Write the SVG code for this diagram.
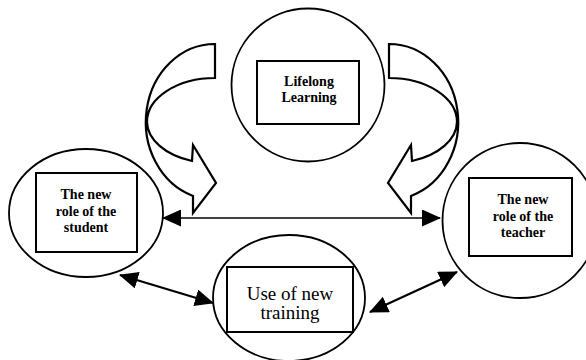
<svg xmlns="http://www.w3.org/2000/svg" width="586" height="360" viewBox="0 0 586 360">
<style>
.ring{fill:none;stroke:#000;stroke-width:1.8}
.box{fill:#fff;stroke:#000;stroke-width:2}
.lbl{font-family:"Liberation Serif","Times New Roman",serif;font-size:14px;font-weight:bold;text-anchor:middle;fill:#000}
.big{font-family:"Liberation Serif","Times New Roman",serif;font-size:19px;text-anchor:middle;fill:#000}
.band{fill:none;stroke:#000;stroke-width:2.2;stroke-linejoin:miter}
.link{fill:none;stroke:#000;stroke-width:2.2}
.hlink{fill:none;stroke:#000;stroke-width:1.6}
</style>
<defs>
<marker id="head" markerUnits="userSpaceOnUse" markerWidth="19" markerHeight="17" viewBox="0 0 19 17" refX="18" refY="8.5" orient="auto-start-reverse">
<path d="M0,0 L19,8.5 L0,17 Z" fill="#000"/>
</marker>
</defs>
<rect width="586" height="360" fill="#fff"/>
<g id="lifelong">
<circle class="ring" cx="308" cy="85" r="76.5"/>
<rect class="box" x="257" y="61" width="102" height="63"/>
<text class="lbl" x="309" y="86">Lifelong</text>
<text class="lbl" x="309" y="102">Learning</text>
</g>
<g id="student">
<ellipse class="ring" cx="86" cy="213" rx="77" ry="64"/>
<rect class="box" x="36" y="173" width="101" height="79"/>
<text class="lbl" x="86" y="199">The new</text>
<text class="lbl" x="86" y="216">role of the</text>
<text class="lbl" x="86" y="232">student</text>
</g>
<g id="teacher">
<circle class="ring" cx="520" cy="220.5" r="77.5"/>
<rect class="box" x="469" y="178" width="103" height="78"/>
<text class="lbl" x="523" y="204">The new</text>
<text class="lbl" x="523" y="221">role of the</text>
<text class="lbl" x="523" y="237">teacher</text>
</g>
<g id="training">
<ellipse class="ring" cx="289" cy="298" rx="76" ry="63"/>
<rect class="box" x="227" y="267" width="126" height="65"/>
<text class="big" x="290" y="300">Use of new</text>
<text class="big" x="290" y="319">training</text>
</g>
<g id="connectors">
<path class="band" d="M215,44 A69,78 0 0 0 193,196 L193,213 L216,183 L193,145 L192,161 A68,42 0 0 1 147,122 A68,44 0 0 1 215,78 Z"/>
<path class="band" d="M389,44 A69,78 0 0 1 411,196 L411,213 L388,183 L411,145 L412,161 A68,42 0 0 0 457,122 A68,44 0 0 0 389,78 Z"/>
<line class="hlink" x1="163" y1="218" x2="440" y2="218" marker-start="url(#head)" marker-end="url(#head)"/>
<line class="link" x1="120" y1="275" x2="213" y2="303" marker-start="url(#head)" marker-end="url(#head)"/>
<line class="link" x1="370" y1="312" x2="457" y2="272" marker-start="url(#head)" marker-end="url(#head)"/>
</g>
</svg>
